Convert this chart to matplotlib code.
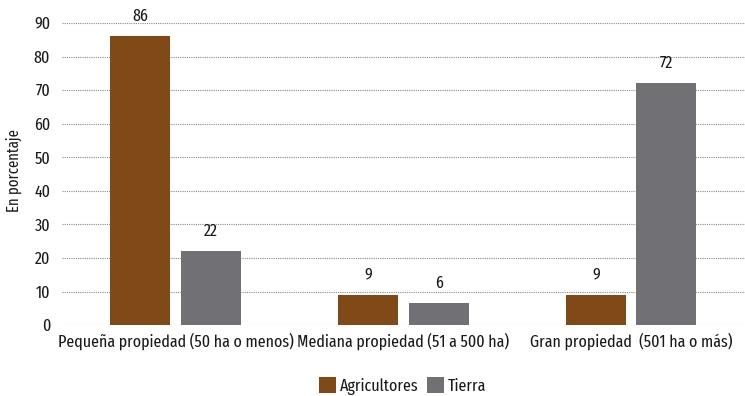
import numpy as np
import matplotlib.pyplot as plt
from matplotlib import font_manager

categorias = ['Pequeña propiedad (50 ha o menos)', 'Mediana propiedad (51 a 500 ha)', 'Gran propiedad  (501 ha o más)']
agricultores = [86, 9, 9]
tierra = [22, 6.6, 72]
etiquetas_agr = ['86', '9', '9']
etiquetas_tie = ['22', '6', '72']
yticks = [0, 10, 20, 30, 40, 50, 60, 70, 80, 90]

# fuente condensada parecida a la del original
fams = set(f.name for f in font_manager.fontManager.ttflist)
for cand in ('Fira Sans Extra Condensed', 'PT Sans Narrow', 'Roboto Condensed'):
    if cand in fams:
        plt.rcParams['font.family'] = [cand, 'DejaVu Sans']
        break

col_agr = '#7f4a18'
col_tie = '#717075'
txt = '#1a1a1a'
fs = 12.5

fig = plt.figure(figsize=(7.45, 3.96), dpi=100)
ax = fig.add_axes([0.083, 0.179, 0.917, 0.763])

x = np.arange(len(categorias))
w = 0.264
off = 0.155
b1 = ax.bar(x - off, agricultores, w, color=col_agr, label='Agricultores', zorder=3)
b2 = ax.bar(x + off, tierra, w, color=col_tie, label='Tierra', zorder=3)

for bars, labs in ((b1, etiquetas_agr), (b2, etiquetas_tie)):
    for r, l in zip(bars, labs):
        ax.text(r.get_x() + r.get_width() / 2, r.get_height() + 3.6, l,
                ha='center', va='bottom', fontsize=fs, color=txt, clip_on=False)

ax.set_xlim(-0.5, 2.5)
ax.set_ylim(0, 90)
ax.set_yticks(yticks)
ax.set_xticks(x)
ax.set_xticklabels(categorias, fontsize=fs, color=txt)
ax.tick_params(axis='y', labelsize=fs, labelcolor=txt, length=0, pad=8.5)
ax.tick_params(axis='x', length=0, pad=5)
ax.yaxis.grid(True, linestyle=(0, (1, 1)), color='#8a8a8a', linewidth=0.8, zorder=0)
for s in ax.spines.values():
    s.set_visible(False)

fig.text(0.018, 0.57, 'En porcentaje', rotation=90, ha='center', va='center',
         fontsize=11.5, color=txt)

fig.legend(handles=[b1, b2], loc='center', bbox_to_anchor=(0.54, 0.025), ncol=2,
           frameon=False, fontsize=fs, handlelength=1.0, handleheight=1.0,
           columnspacing=0.5, handletextpad=0.2, labelcolor=txt)

fig.savefig('out.png', dpi=100)
